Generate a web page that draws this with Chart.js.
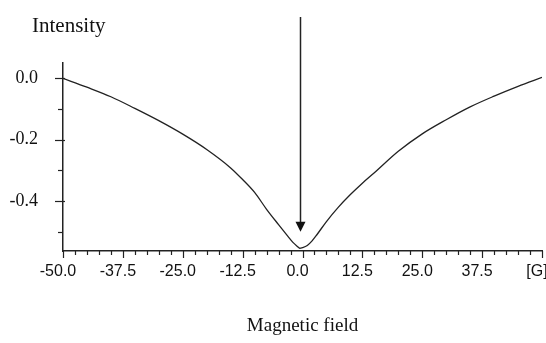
<!DOCTYPE html>
<html>
<head>
<meta charset="utf-8">
<script src="https://cdn.jsdelivr.net/npm/chart.js@4"></script>
<style>
  html, body { margin: 0; padding: 0; background: #fff; }
  #wrap { width: 546px; height: 343px; }
</style>
</head>
<body>
<div id="wrap"><canvas id="fieldChart" width="546" height="343"></canvas></div>
<script>
// Magnetic field values [G] and intensity
const field = [-50, -45, -40, -35, -30, -25, -20, -15, -12.5, -10, -7.5, -5, -3, -2, -1, -0.6,
               0, 1, 2, 3, 5, 7.5, 10, 12.5, 15, 20, 25, 30, 35, 40, 45, 50];
const intensity = [0.0, -0.029, -0.060, -0.098, -0.138, -0.182, -0.232, -0.292, -0.330, -0.372,
                   -0.427, -0.477, -0.516, -0.535, -0.549, -0.554,
                   -0.552, -0.545, -0.530, -0.510, -0.467, -0.420, -0.379, -0.342, -0.308,
                   -0.238, -0.181, -0.135, -0.093, -0.058, -0.026, 0.003];

const xMajor = [-50, -37.5, -25, -12.5, 0, 12.5, 25, 37.5, 50];
const xTickLabels = ['-50.0', '-37.5', '-25.0', '-12.5', '0.0', '12.5', '25.0', '37.5', '[G]'];
const yMajor = [0, -0.2, -0.4];
const yTickLabels = ['0.0', '-0.2', '-0.4'];
const yMinor = [-0.1, -0.3, -0.5];

// arrow marking the resonance
const arrowX = -0.6, arrowTop = 0.2, arrowTip = -0.5;

const serif = 'Liberation Serif';
const sans = 'Liberation Sans';

function near(a, b) { return Math.abs(a - b) < 1e-6; }
function isMultiple(v, step) { return near(v / step, Math.round(v / step)); }

const decorations = {
  id: 'decorations',
  afterDraw(chart) {
    const c = chart.ctx;
    const xs = chart.scales.x, ys = chart.scales.y;
    c.save();
    c.strokeStyle = '#222';
    c.lineWidth = 1.2;
    // x tick marks, pointing down
    xs.ticks.forEach(t => {
      if (!isMultiple(t.value, 2.5)) return;
      const px = Math.round(xs.getPixelForValue(t.value)) + 0.5;
      const len = isMultiple(t.value, 12.5) ? 7 : 4;
      c.beginPath();
      c.moveTo(px, xs.top);
      c.lineTo(px, xs.top + len);
      c.stroke();
    });
    // y tick marks, pointing left
    ys.ticks.forEach(t => {
      const major = yMajor.some(m => near(m, t.value));
      const py = Math.round(ys.getPixelForValue(t.value)) + 0.5;
      const len = major ? 8 : 5;
      c.beginPath();
      c.moveTo(ys.right - len, py);
      c.lineTo(ys.right + (major ? 2 : 0), py);
      c.stroke();
    });
    // y title
    c.fillStyle = '#111';
    c.font = '21px "' + serif + '"';
    c.textBaseline = 'alphabetic';
    c.textAlign = 'left';
    c.fillText('Intensity', ys.right - 31, 32);
    // arrow
    const ax = Math.round(xs.getPixelForValue(arrowX)) + 0.5;
    const top = ys.getPixelForValue(arrowTop);
    const tip = ys.getPixelForValue(arrowTip);
    c.lineWidth = 1.5;
    c.beginPath();
    c.moveTo(ax, top);
    c.lineTo(ax, tip - 9);
    c.stroke();
    c.beginPath();
    c.moveTo(ax - 5, tip - 10);
    c.lineTo(ax + 5, tip - 10);
    c.lineTo(ax, tip);
    c.closePath();
    c.fill();
    c.restore();
  }
};

new Chart(document.getElementById('fieldChart'), {
  type: 'line',
  data: {
    datasets: [{
      data: field.map((x, i) => ({ x: x, y: intensity[i] })),
      borderColor: '#222',
      borderWidth: 1.3,
      pointRadius: 0,
      cubicInterpolationMode: 'monotone',
      fill: false
    }]
  },
  options: {
    responsive: false,
    animation: false,
    layout: { padding: { top: 63, right: 4, left: 0, bottom: 0 } },
    plugins: { legend: { display: false }, tooltip: { enabled: false } },
    scales: {
      x: {
        type: 'linear',
        min: -50,
        max: 50,
        afterFit(scale) { scale.height = 92; scale.paddingLeft = 0; scale.paddingRight = 0; },
        grid: { display: false, drawTicks: false },
        border: { display: true, color: '#222', width: 1.5 },
        ticks: {
          stepSize: 2.5,
          autoSkip: false,
          maxRotation: 0,
          padding: 11,
          labelOffset: -5,
          color: '#111',
          font: { family: sans, size: 16 },
          callback(v) {
            const i = xMajor.findIndex(m => near(m, v));
            return i >= 0 ? xTickLabels[i] : '';
          }
        },
        title: {
          display: true,
          text: 'Magnetic field',
          color: '#111',
          font: { family: serif, size: 19 },
          padding: { top: 0, bottom: 6 }
        }
      },
      y: {
        min: -0.563,
        max: 0.05,
        afterFit(scale) { scale.width = 63; },
        afterBuildTicks(scale) {
          scale.ticks = yMajor.concat(yMinor).map(v => ({ value: v }));
        },
        grid: { display: false, drawTicks: false },
        border: { display: true, color: '#222', width: 1.5 },
        ticks: {
          autoSkip: false,
          padding: 25,
          color: '#111',
          font: { family: serif, size: 18 },
          callback(v) {
            const i = yMajor.findIndex(m => near(m, v));
            return i >= 0 ? yTickLabels[i] : '';
          }
        }
      }
    }
  },
  plugins: [decorations]
});
</script>
</body>
</html>
